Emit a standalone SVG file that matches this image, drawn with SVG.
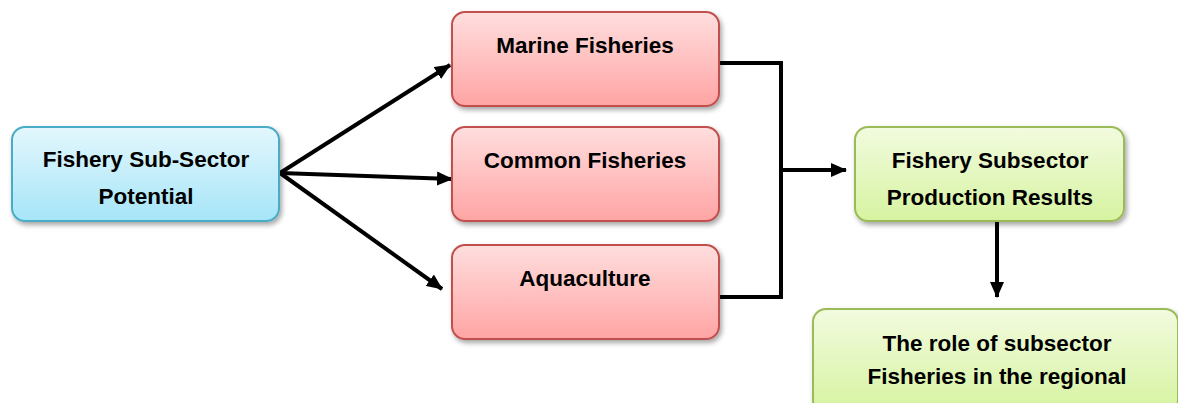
<svg xmlns="http://www.w3.org/2000/svg" width="1178" height="403" viewBox="0 0 1178 403">
<style>
.t{font-family:"Liberation Sans",Arial,sans-serif;font-weight:bold;font-size:22.5px;fill:#000;text-anchor:middle}
.blue{fill:url(#gb);stroke:#4aacc6;stroke-width:2}
.red{fill:url(#gr);stroke:#c0504d;stroke-width:2}
.green{fill:url(#gg);stroke:#9bbb59;stroke-width:2}
.c{fill:none;stroke:#000;stroke-width:4;stroke-linejoin:miter}
</style>
<defs>
<linearGradient id="gb" x1="0" y1="0" x2="0" y2="1"><stop offset="0" stop-color="#e3f7fd"/><stop offset="1" stop-color="#a6e5f8"/></linearGradient>
<linearGradient id="gr" x1="0" y1="0" x2="0" y2="1"><stop offset="0" stop-color="#ffdede"/><stop offset="1" stop-color="#ffa4a4"/></linearGradient>
<linearGradient id="gg" x1="0" y1="0" x2="0" y2="1"><stop offset="0" stop-color="#f2fbdf"/><stop offset="1" stop-color="#d6f3a0"/></linearGradient>
<filter id="sh" x="-10%" y="-10%" width="125%" height="135%"><feDropShadow dx="2" dy="3" stdDeviation="2.5" flood-color="#000" flood-opacity="0.35"/></filter>
<marker id="ah" viewBox="0 0 16 14" refX="15" refY="7" markerWidth="16" markerHeight="15" markerUnits="userSpaceOnUse" orient="auto"><path d="M0,0 L16,7 L0,14 Z" fill="#000"/></marker>
</defs>
<g id="connectors">
<line class="c" x1="280" y1="173" x2="450" y2="65" marker-end="url(#ah)"/>
<line class="c" x1="280" y1="173" x2="452" y2="179" marker-end="url(#ah)"/>
<line class="c" x1="280" y1="173" x2="442" y2="289" marker-end="url(#ah)"/>
<polyline class="c" points="719,63 781,63 781,297 719,297"/>
<line class="c" x1="781" y1="170" x2="846" y2="170" marker-end="url(#ah)"/>
<line class="c" x1="997" y1="221" x2="997" y2="297" marker-end="url(#ah)"/>
</g>
<g id="potential"><rect class="blue" filter="url(#sh)" x="12" y="127" width="267" height="94" rx="13"/><text class="t" x="146" y="167">Fishery Sub-Sector</text><text class="t" x="146" y="204">Potential</text></g>
<g id="marine"><rect class="red" filter="url(#sh)" x="452" y="12" width="267" height="94" rx="13"/><text class="t" x="585" y="53">Marine Fisheries</text></g>
<g id="common"><rect class="red" filter="url(#sh)" x="452" y="127" width="267" height="94" rx="13"/><text class="t" x="585" y="168">Common Fisheries</text></g>
<g id="aquaculture"><rect class="red" filter="url(#sh)" x="452" y="245" width="267" height="94" rx="13"/><text class="t" x="585" y="286">Aquaculture</text></g>
<g id="production"><rect class="green" filter="url(#sh)" x="855" y="127" width="269" height="94" rx="13"/><text class="t" x="990" y="168">Fishery Subsector</text><text class="t" x="990" y="205">Production Results</text></g>
<g id="role"><rect class="green" filter="url(#sh)" x="813" y="309" width="365" height="104" rx="13"/><text class="t" x="997" y="351">The role of subsector</text><text class="t" x="997" y="384">Fisheries in the regional</text></g>
</svg>
